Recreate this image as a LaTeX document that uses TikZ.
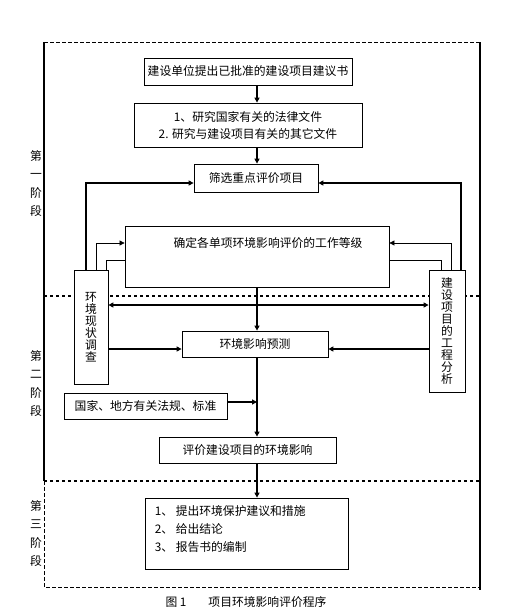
\documentclass[tikz,border=0pt]{standalone}
\usepackage{fontspec}
\setmainfont{Noto Sans CJK SC}
\usetikzlibrary{arrows.meta}

\begin{document}
\begin{tikzpicture}[
    x=1pt,
    y=-1pt,
    font=\fontsize{11.8}{17}\selectfont,
    box/.style={
        draw,
        fill=white,
        line width=0.8pt,
        inner sep=0pt,
        align=center
    },
    upright/.style={
        box,
        font=\fontsize{11.8}{12}\selectfont
    },
    stage/.style={
        align=center,
        inner sep=0pt,
        font=\fontsize{11.8}{18.3}\selectfont
    },
    flow/.style={
        line width=1.4pt,
        -{Triangle[length=5pt,width=5pt]}
    },
    both/.style={
        line width=1.4pt,
        {Triangle[length=5pt,width=5pt]}-{Triangle[length=5pt,width=5pt]}
    },
    feed/.style={
        line width=1.2pt,
        -{Triangle[length=5pt,width=5pt]}
    },
    link/.style={
        line width=0.7pt
    },
    frame/.style={
        line width=1.5pt
    },
    split/.style={
        line width=1.3pt,
        dashed
    },
    rim/.style={
        line width=0.6pt,
        dash pattern=on 4pt off 2pt
    },
    ]
    \useasboundingbox (0,0) rectangle (521,616);

    \draw[rim] (44,42) -- (480,42);
    \draw[frame] (44,42) -- (44,481);
    \draw[rim] (44,481) -- (44,587) -- (480,587);
    \draw[frame] (480,42) -- (480,590);
    \draw[split] (44,296) -- (480,296);
    \draw[split] (44,481) -- (480,481);

    \node[box, minimum width=208pt, minimum height=27pt] (proposal) at (248,71.5) {建设单位提出已批准的建设项目建议书};
    \node[box, minimum width=228pt, minimum height=44pt] (laws) at (248,125) {1、研究国家有关的法律文件\\2. 研究与建设项目有关的其它文件};
    \node[box, minimum width=124pt, minimum height=28pt] (screen) at (256,178) {筛选重点评价项目};
    \node[box, minimum width=264pt, minimum height=61pt,
        label={[xshift=11pt, yshift=13.5pt]center:确定各单项环境影响评价的工作等级}] (grade) at (257,256.5) {};
    \node[upright, minimum width=34pt, minimum height=114pt] (survey) at (91,327) {环\\境\\现\\状\\调\\查};
    \node[upright, minimum width=36pt, minimum height=122pt] (analysis) at (447,331) {建\\设\\项\\目\\的\\工\\程\\分\\析};
    \node[box, minimum width=146pt, minimum height=26pt] (predict) at (255,344) {环境影响预测};
    \node[box, minimum width=163pt, minimum height=26pt] (norms) at (145.5,406) {国家、地方有关法规、标准};
    \node[box, minimum width=177pt, minimum height=26pt] (assess) at (247.5,450) {评价建设项目的环境影响};
    \node[box, minimum width=203pt, minimum height=71pt,
        label={[anchor=west, inner sep=0pt, xshift=10pt, yshift=4.5pt, align=left,
        font=\fontsize{11.8}{18}\selectfont]west:1、 提出环境保护建议和措施\\2、 给出结论\\3、 报告书的编制}] (measures) at (246.5,533.5) {};

    \node[stage] (first) at (36,183.5) {第\\一\\阶\\段};
    \node[stage] (second) at (36,383.5) {第\\二\\阶\\段};
    \node[stage] (third) at (36,533.5) {第\\三\\阶\\段};
    \node (caption) at (246,602) {图 1\hspace{22pt}项目环境影响评价程序};

    \coordinate (spine) at (257,0);
    \coordinate (normin) at (257,402);
    \coordinate (leftout) at (86,183);
    \coordinate (leftup) at (96,243);
    \coordinate (leftdown) at (106,260);
    \coordinate (rightout) at (461,183);
    \coordinate (rightup) at (451,243);
    \coordinate (rightdown) at (441,260);
    \coordinate (band) at (0,305);
    \coordinate (side) at (0,349);

    \draw[flow] (proposal.south -| spine) -- (laws.north -| spine);
    \draw[flow] (laws.south -| spine) -- (screen.north -| spine);
    \draw[flow] (grade.south -| spine) -- (predict.north -| spine);
    \draw[flow] (predict.south -| spine) -- (assess.north -| spine);
    \draw[flow] (assess.south -| spine) -- (measures.north -| spine);
    \draw[flow] (norms.east |- normin) -- (normin);

    \draw[feed] (survey.north -| leftout) -- (leftout) -- (screen.west |- leftout);
    \draw[feed] (analysis.north -| rightout) -- (rightout) -- (screen.east |- rightout);
    \draw[link, -{Triangle[length=5pt,width=5pt]}] (survey.north -| leftup) -- (leftup) -- (grade.west |- leftup);
    \draw[link, -{Triangle[length=5pt,width=5pt]}] (analysis.north -| rightup) -- (rightup) -- (grade.east |- rightup);
    \draw[link] (grade.west |- leftdown) -- (leftdown) -- (survey.north -| leftdown);
    \draw[link] (grade.east |- rightdown) -- (rightdown) -- (analysis.north -| rightdown);

    \draw[both] (survey.east |- band) -- (analysis.west |- band);
    \draw[flow] (survey.east |- side) -- (predict.west |- side);
    \draw[flow] (analysis.west |- side) -- (predict.east |- side);
\end{tikzpicture}
\end{document}
